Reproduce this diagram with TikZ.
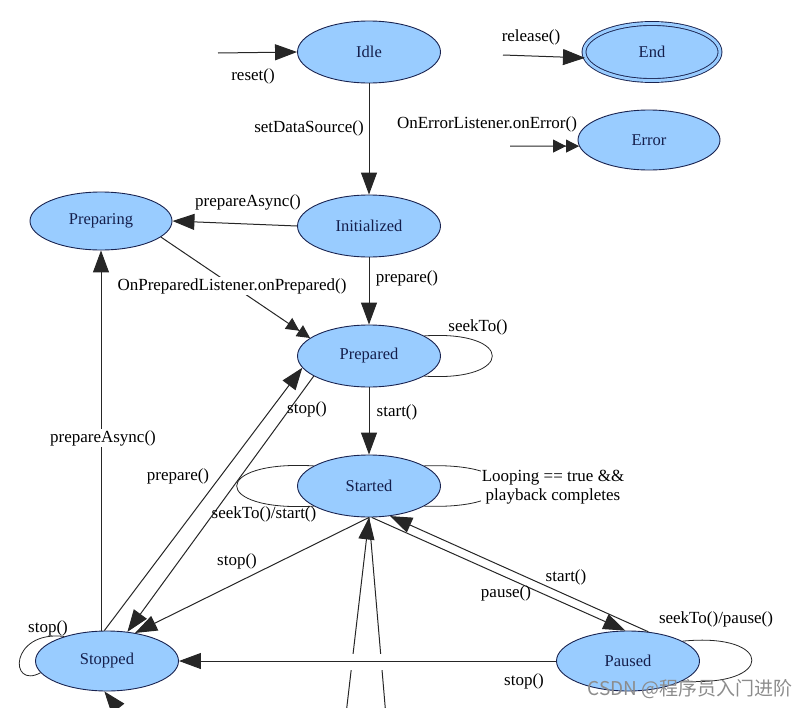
\documentclass[tikz,border=0pt]{standalone}
\usepackage{fontspec}
\setmainfont{Liberation Serif}
\newfontfamily\cjkfont{Noto Sans CJK SC}
\usetikzlibrary{arrows.meta,shapes.geometric}

\definecolor{statefill}{RGB}{153,204,255}
\definecolor{stateline}{RGB}{25,35,80}
\definecolor{statetext}{RGB}{20,30,75}

\begin{document}
\begin{tikzpicture}[x=1pt, y=-1pt,
  state/.style={ellipse, draw=stateline, fill=statefill, line width=0.9pt,
    minimum width=143pt, minimum height=62pt, inner sep=0pt, text=statetext,
    font=\rmfamily\fontsize{16.5}{18}\selectfont},
  lbl/.style={inner sep=1pt, font=\rmfamily\fontsize{17}{19}\selectfont},
  trans/.style={draw=black!85, line width=1pt, -{Triangle[length=22pt,width=16pt]}},
  dbl/.style={draw=black!85, line width=1pt,
    -{Triangle[length=13pt,width=13pt]Triangle[length=13pt,width=13pt]}},
  selfloop/.style={draw=black!85, line width=0.8pt}]

  \useasboundingbox (0, 0) rectangle (811, 707);
  \clip (0, 0) rectangle (811, 707);

  % states
  \node[state] (idle) at (369, 52) {Idle};
  \node[state, minimum width=136pt, minimum height=57pt, double=statefill,
    double distance=3pt] (endst) at (652, 52) {End};
  \node[state, minimum width=142pt, minimum height=60pt] (err) at (649, 140) {Error};
  \node[state] (init) at (369, 226) {Initialized};
  \node[state, minimum width=142pt, minimum height=58pt] (prepg) at (101, 221) {Preparing};
  \node[state] (prepd) at (369, 356) {Prepared};
  \node[state] (start) at (369, 486) {Started};
  \node[state, minimum height=60pt] (stop) at (107, 661) {Stopped};
  \node[state, minimum height=60pt] (paused) at (628, 661) {Paused};

  \coordinate (rsrc) at (218, 53);
  \coordinate (relsrc) at (503, 55);
  \coordinate (errsrc) at (510, 146);
  \coordinate (pcin) at (343, 740);
  \coordinate (pcout) at (388, 740);
  \coordinate (pcstop) at (146, 744);

  % loops
  \draw[selfloop] (prepd.20) .. controls (515, 330) and (515, 382) .. (prepd.-20);
  \draw[selfloop] (start.160) .. controls (211, 460) and (211, 512) .. (start.200);
  \draw[selfloop] (start.20) .. controls (525, 462) and (525, 510) .. (start.-20);
  \draw[selfloop] (paused.20) .. controls (775, 632) and (775, 688) .. (paused.-20);
  \draw[selfloop] (stop.150) .. controls (9, 630) and (9, 690) .. (stop.190);

  % transitions
  \draw[trans] (rsrc) -- (idle.west);
  \draw[trans] (relsrc) -- (endst.185);
  \draw[dbl] (errsrc) -- (err.185);
  \draw[trans] (idle.south) -- (init.north);
  \draw[trans] (init.west) -- (prepg.east);
  \draw[trans] (init.south) -- (prepd.north);
  \draw[dbl] (prepg.-15) -- (prepd.163);
  \draw[trans] (prepd.south) -- (start.north);
  \draw[trans] (stop.95) -- (prepd.190);
  \draw[trans] (prepd.200) -- (stop.55);
  \draw[trans] (stop.north -| prepg.south) -- (prepg.south);
  \draw[trans] (start.south) -- (stop.45);
  \draw[trans] (start.275) -- (paused.95);
  \draw[trans] (paused.55) -- (start.305);
  \draw[trans] (pcin) -- (start.south);
  \draw[draw=black!85, line width=1pt] (start.south) -- (pcout);
  \draw[trans] (pcstop) -- (stop.265);
  \fill[white] (338, 654) rectangle (398, 670);
  \draw[trans] (paused.west) -- (stop.east);

  % labels
  \node[lbl] (lreset) at (253, 76) {reset()};
  \node[lbl] (lrelease) at (531, 37) {release()};
  \node[lbl] (lerror) at (487, 124) {OnErrorListener.onError()};
  \node[lbl] (lsetds) at (309, 128) {setDataSource()};
  \node[lbl] (lasync) at (248, 202) {prepareAsync()};
  \node[lbl] (lprep) at (407, 278) {prepare()};
  \node[lbl, fill=white] (lonprep) at (232, 286) {OnPreparedListener.onPrepared()};
  \node[lbl] (lseek) at (478, 327) {seekTo()};
  \node[lbl] (lstoppd) at (307, 409) {stop()};
  \node[lbl] (lstart) at (397, 412) {start()};
  \node[lbl, fill=white] (lasync2) at (103, 438) {prepareAsync()};
  \node[lbl] (lprep2) at (178, 476) {prepare()};
  \node[lbl] (lseekst) at (264, 514) {seekTo()/start()};
  \node[lbl, fill=white, align=center]
    (lloop) at (553, 487) {Looping == true \&\&\\playback completes};
  \node[lbl] (lstopst) at (237, 561) {stop()};
  \node[lbl] (lstartp) at (566, 577) {start()};
  \node[lbl] (lpause) at (506, 593) {pause()};
  \node[lbl] (lseekp) at (716, 619) {seekTo()/pause()};
  \node[lbl] (lstopst2) at (48, 628) {stop()};
  \node[lbl] (lstoppa) at (524, 681) {stop()};

  \node[text=black!45, font=\cjkfont\fontsize{19}{21}\selectfont] (wmark)
    at (690, 689) {CSDN @程序员入门进阶};
\end{tikzpicture}
\end{document}
